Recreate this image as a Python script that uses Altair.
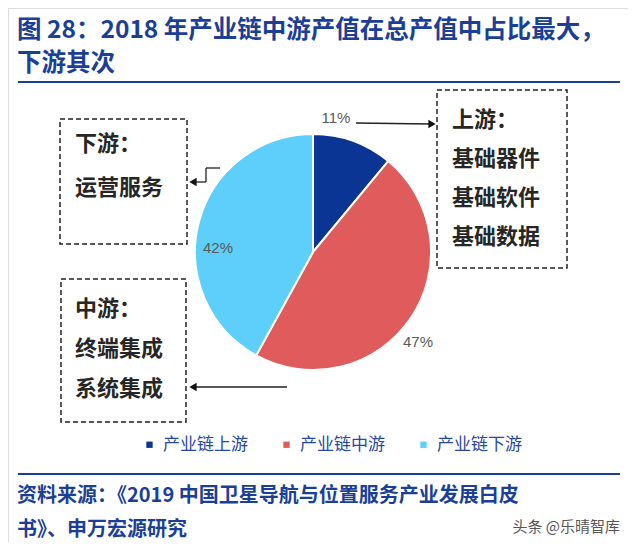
import altair as alt
import pandas as pd

categories = ["产业链上游", "产业链中游", "产业链下游"]
shares = [11, 47, 42]
colors = ["#0A3594", "#E05C5C", "#5DCFFA"]

title_lines = ["图 28：2018 年产业链中游产值在总产值中占比最大，", "下游其次"]
source_lines = ["资料来源：《2019  中国卫星导航与位置服务产业发展白皮", "书》、申万宏源研究"]
upstream_lines = ["上游：", "基础器件", "基础软件", "基础数据"]
midstream_lines = ["中游：", "终端集成", "系统集成"]
downstream_lines = ["下游：", "运营服务"]
watermark = "头条 @乐晴智库"

BLUE = "#1B3F97"
CJK = "Noto Sans CJK SC"

df = pd.DataFrame({"category": categories, "share": shares,
                   "idx": list(range(len(categories)))})
df["label"] = [f"{s}%" for s in shares]

M = 8  # page margin


def px(v):
    return v - M


base = alt.Chart(df)
one = alt.Chart(pd.DataFrame({"k": [0]}))

cx, cy, R = 313, 252, 118

pie = base.mark_arc(outerRadius=R, stroke="white", strokeWidth=2).encode(
    theta=alt.Theta("share:Q", stack=True),
    order=alt.Order("idx:Q"),
    color=alt.Color(
        "category:N",
        scale=alt.Scale(domain=categories, range=colors),
        legend=alt.Legend(
            title=None, orient="none", legendX=px(141), legendY=px(436),
            direction="horizontal", symbolType="square", symbolSize=40,
            symbolStrokeWidth=0, labelFont=CJK, labelFontSize=17,
            labelColor="#2548A3", columnPadding=30, labelOffset=5, padding=0,
        ),
    ),
    x=alt.value(px(cx)), y=alt.value(px(cy)),
)

layers = [pie]

label_pos = [(336, 118), (418, 342), (218, 248)]
for cat, (lx, ly) in zip(categories, label_pos):
    layers.append(
        base.transform_filter(alt.datum.category == cat)
        .mark_text(font="Liberation Sans", fontSize=15, color="#595959",
                   align="center", baseline="middle")
        .encode(text="label:N", x=alt.value(px(lx)), y=alt.value(px(ly)))
    )

# dashed boxes
boxes = [(437, 90, 567, 268), (60, 119, 187, 244), (61, 279, 186, 422)]
for x1, y1, x2, y2 in boxes:
    layers.append(
        one.mark_rect(fillOpacity=0, stroke="#222222", strokeWidth=1.5,
                      strokeDash=[5, 3]).encode(
            x=alt.value(px(x1)), x2=alt.value(px(x2)),
            y=alt.value(px(y1)), y2=alt.value(px(y2)))
    )

# box texts
box_texts = [(upstream_lines, 452, 120), (downstream_lines, 75, 144),
             (midstream_lines, 75, 309)]
line_h = [39, 44, 40]
for (lines, tx, ty), lh in zip(box_texts, line_h):
    layers.append(
        one.mark_text(text=lines, font=CJK, fontSize=22, fontWeight="bold",
                      color="#262626", align="left", baseline="middle",
                      lineHeight=lh).encode(
            x=alt.value(px(tx)), y=alt.value(px(ty)))
    )

# arrows (lines)
segments = [(356, 123, 430, 124), (287, 387, 196, 387),
            (220, 168, 206, 168), (206, 168, 206, 182), (206, 182, 196, 182)]
for x1, y1, x2, y2 in segments:
    layers.append(
        one.mark_rule(color="#222222", strokeWidth=1.3).encode(
            x=alt.value(px(x1)), x2=alt.value(px(x2)),
            y=alt.value(px(y1)), y2=alt.value(px(y2)))
    )
heads = [(432, 124, "triangle-right"), (193, 387, "triangle-left"),
         (193, 182, "triangle-left")]
for hx, hy, shp in heads:
    layers.append(
        one.mark_point(shape=shp, filled=True, color="#111111", size=70,
                       opacity=1).encode(
            x=alt.value(px(hx)), y=alt.value(px(hy)))
    )

# title and source
layers.append(
    one.mark_text(text=title_lines, font=CJK, fontSize=24.5, fontWeight="bold",
                  color=BLUE, align="left", baseline="middle", lineHeight=33).encode(
        x=alt.value(px(17)), y=alt.value(px(31)))
)
layers.append(
    one.mark_text(text=source_lines, font=CJK, fontSize=20, fontWeight="bold",
                  color=BLUE, align="left", baseline="middle", lineHeight=34).encode(
        x=alt.value(px(17)), y=alt.value(px(496)))
)
for ry in (82, 474):
    layers.append(
        one.mark_rule(color=BLUE, strokeWidth=2).encode(
            x=alt.value(px(18)), x2=alt.value(px(620)), y=alt.value(px(ry)))
    )
layers.append(
    one.mark_text(text=watermark, font=CJK, fontSize=15, color="#555555",
                  align="right", baseline="middle").encode(
        x=alt.value(px(620)), y=alt.value(px(527)))
)

chart = alt.layer(*layers).properties(
    width=620, height=534, padding=0, autosize=alt.AutoSizeParams(type="none")
).configure_view(stroke=None).configure(background="white")

chart.save("out.html", embed_options={"renderer": "svg", "actions": False})
